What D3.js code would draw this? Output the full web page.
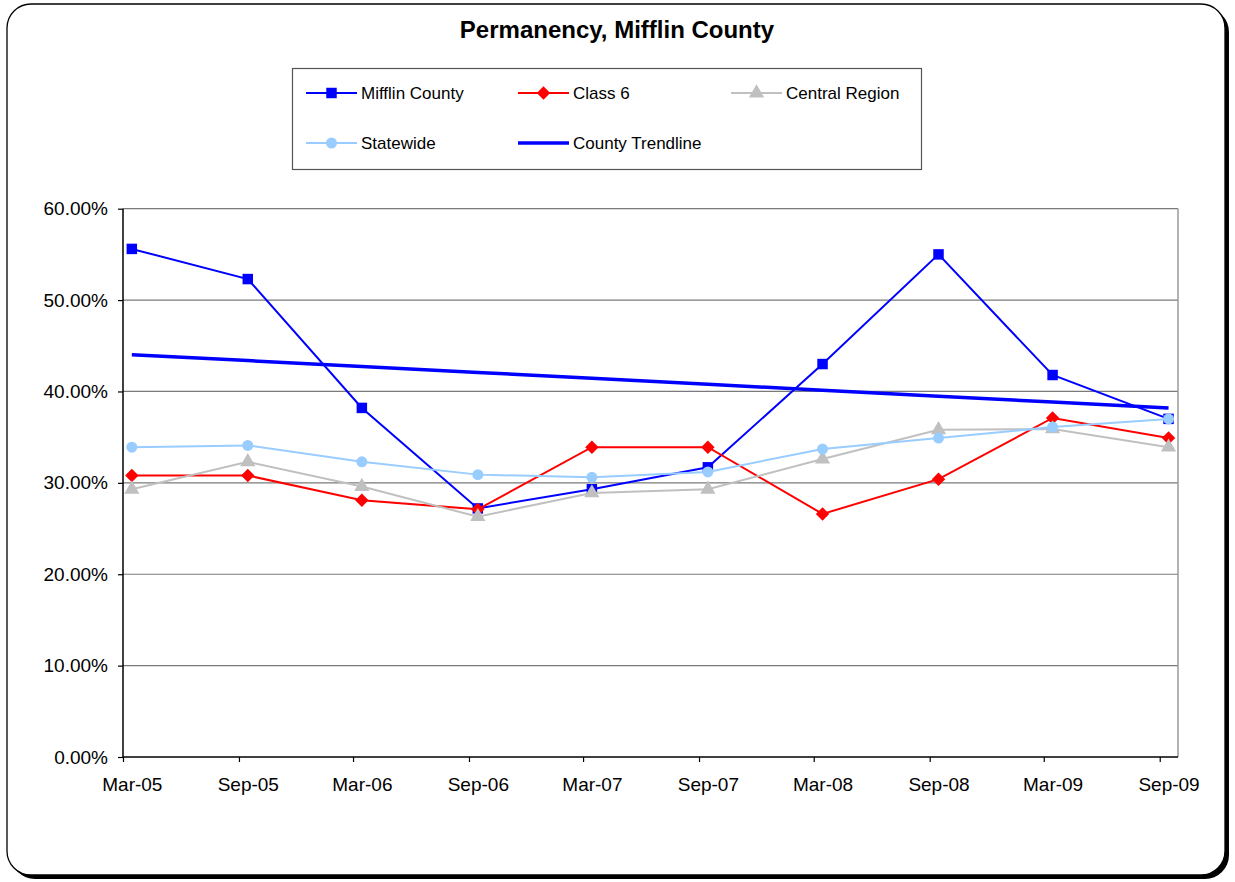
<!DOCTYPE html>
<html>
<head>
<meta charset="utf-8">
<script src="https://cdn.jsdelivr.net/npm/d3@7"></script>
<style>
  body { margin: 0; background: #fff; }
  text { font-family: "Liberation Sans", Arial, sans-serif; }
</style>
</head>
<body>
<div class="root"></div>
<script>
// month labels, one per observation (also used as tick labels)
const months = ['Mar-05', 'Sep-05', 'Mar-06', 'Sep-06', 'Mar-07', 'Sep-07', 'Mar-08', 'Sep-08', 'Mar-09', 'Sep-09'];

// permanency rates
const mifflin   = [0.556, 0.523, 0.382, 0.272, 0.293, 0.317, 0.430, 0.550, 0.418, 0.370];
const class6    = [0.308, 0.308, 0.281, 0.271, 0.339, 0.339, 0.266, 0.304, 0.371, 0.349];
const central   = [0.293, 0.323, 0.296, 0.263, 0.289, 0.293, 0.326, 0.358, 0.359, 0.339];
const statewide = [0.339, 0.341, 0.323, 0.309, 0.306, 0.312, 0.337, 0.349, 0.361, 0.370];

const yTicks = [0, 0.1, 0.2, 0.3, 0.4, 0.5, 0.6];

const W = 1235, H = 882;
const svg = d3.select('.root')
  .append('svg')
  .attr('width', W)
  .attr('height', H);

// rounded frame with shadow
svg.append('rect')
  .attr('x', 11).attr('y', 8)
  .attr('width', 1218).attr('height', 871)
  .attr('rx', 24)
  .attr('fill', '#000');
svg.append('rect')
  .attr('x', 7).attr('y', 4)
  .attr('width', 1218).attr('height', 871)
  .attr('rx', 24)
  .attr('fill', '#fff')
  .attr('stroke', '#000')
  .attr('stroke-width', 1.3);

svg.append('text')
  .attr('x', 617).attr('y', 38)
  .attr('text-anchor', 'middle')
  .attr('font-size', 24)
  .attr('font-weight', 'bold')
  .text('Permanency, Mifflin County');

const parseMonth = d3.timeParse('%b-%y');
const tickDates = months.map(parseMonth);
// points sit mid-month on the date axis
const pointDates = tickDates.map(d => d3.timeDay.offset(d, 14));

const x = d3.scaleTime()
  .domain([tickDates[0], new Date(2009, 8, 30)])
  .range([123, 1178]);

const y = d3.scaleLinear()
  .domain([0, 0.6])
  .range([757, 208.7]);

// gridlines
svg.append('g')
  .selectAll('line')
  .data(yTicks.slice(1))
  .enter()
  .append('line')
  .attr('x1', x.range()[0])
  .attr('x2', x.range()[1])
  .attr('y1', d => y(d))
  .attr('y2', d => y(d))
  .attr('stroke', '#7a7a7a')
  .attr('stroke-width', 1.2);

// plot border right side
svg.append('line')
  .attr('x1', x.range()[1]).attr('x2', x.range()[1])
  .attr('y1', y(0.6)).attr('y2', y(0))
  .attr('stroke', '#9a9a9a')
  .attr('stroke-width', 1.5);

const yAxis = svg.append('g')
  .attr('transform', `translate(${x.range()[0]}, 0)`)
  .call(d3.axisLeft(y).tickValues(yTicks).tickFormat(d3.format('.2%')).tickSize(5).tickPadding(10));

const xAxis = svg.append('g')
  .attr('transform', `translate(0, ${y(0)})`)
  .call(d3.axisBottom(x).tickValues(tickDates).tickFormat(d3.timeFormat('%b-%y')).tickSize(5).tickPadding(16));

[yAxis, xAxis].forEach(g => {
  g.select('.domain').attr('stroke', '#000').attr('stroke-width', 1.5);
  g.selectAll('.tick line').attr('stroke', '#000').attr('stroke-width', 1.2);
  g.selectAll('.tick text')
    .attr('fill', '#000')
    .attr('font-size', 19)
    .attr('font-family', '"Liberation Sans", Arial, sans-serif');
});
// category labels centre on the data point, not the tick
xAxis.selectAll('.tick text')
  .attr('x', (d, i) => x(pointDates[i]) - x(tickDates[i]));
xAxis.select('.domain').attr('d', `M${x.range()[0]},0H${x.range()[1]}`);
yAxis.select('.domain').attr('d', `M0,${y(0)}V${y(0.6)}`);

const diamond = {
  draw(ctx, size) {
    const r = Math.sqrt(size / 2);
    ctx.moveTo(0, -r);
    ctx.lineTo(r, 0);
    ctx.lineTo(0, r);
    ctx.lineTo(-r, 0);
    ctx.closePath();
  }
};

const series = [
  { name: 'Mifflin County', values: mifflin,   color: '#0000ff', symbol: d3.symbolSquare,   size: 110 },
  { name: 'Class 6',        values: class6,    color: '#ff0000', symbol: diamond,           size: 90 },
  { name: 'Central Region', values: central,   color: '#c0c0c0', symbol: d3.symbolTriangle, size: 100 },
  { name: 'Statewide',      values: statewide, color: '#99ccff', symbol: d3.symbolCircle,   size: 95 }
];

const line = d3.line()
  .x((d, i) => x(pointDates[i]))
  .y(d => y(d));

series.forEach(s => {
  const g = svg.append('g');
  g.append('path')
    .attr('d', line(s.values))
    .attr('fill', 'none')
    .attr('stroke', s.color)
    .attr('stroke-width', 2);
  g.selectAll('path.mark')
    .data(s.values)
    .enter()
    .append('path')
    .attr('class', 'mark')
    .attr('transform', (d, i) => `translate(${x(pointDates[i])}, ${y(d)})`)
    .attr('d', d3.symbol().type(s.symbol).size(s.size))
    .attr('fill', s.color);
});

// linear trendline through the county series
const idx = mifflin.map((d, i) => i);
const mx = d3.mean(idx), my = d3.mean(mifflin);
const slope = d3.sum(idx, i => (i - mx) * (mifflin[i] - my)) / d3.sum(idx, i => (i - mx) * (i - mx));
const trend = idx.map(i => my + slope * (i - mx));
svg.append('path')
  .attr('d', line(trend))
  .attr('fill', 'none')
  .attr('stroke', '#0000ff')
  .attr('stroke-width', 3.5);

// legend
svg.append('rect')
  .attr('x', 292.5).attr('y', 68.5)
  .attr('width', 629).attr('height', 101)
  .attr('fill', '#fff')
  .attr('stroke', '#555')
  .attr('stroke-width', 1.2);

const legendItems = [
  { s: series[0], x: 306, y: 93 },
  { s: series[1], x: 518, y: 93 },
  { s: series[2], x: 731, y: 93 },
  { s: series[3], x: 306, y: 143 },
  { s: { name: 'County Trendline', color: '#0000ff', trend: true }, x: 518, y: 143 }
];

const lg = svg.append('g')
  .selectAll('g')
  .data(legendItems)
  .enter()
  .append('g')
  .attr('transform', d => `translate(${d.x}, ${d.y})`);

lg.append('line')
  .attr('x1', 0).attr('x2', 51)
  .attr('stroke', d => d.s.color)
  .attr('stroke-width', d => d.s.trend ? 3.5 : 2);

lg.filter(d => !d.s.trend)
  .append('path')
  .attr('transform', 'translate(25.5, 0)')
  .attr('d', d => d3.symbol().type(d.s.symbol).size(d.s.size)())
  .attr('fill', d => d.s.color);

lg.append('text')
  .attr('x', 55)
  .attr('dy', '0.35em')
  .attr('font-size', 17)
  .text(d => d.s.name);
</script>
</body>
</html>
